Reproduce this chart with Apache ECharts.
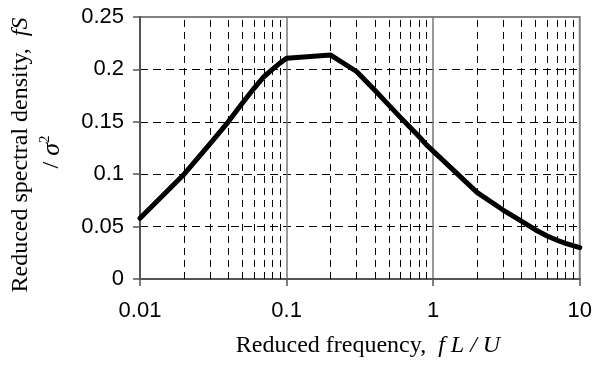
<!DOCTYPE html>
<html>
<head>
<meta charset="utf-8">
<script src="https://cdn.jsdelivr.net/npm/echarts@6/dist/echarts.min.js"></script>
<style>html,body{margin:0;padding:0;background:#fff}#c{width:595px;height:367px}</style>
</head>
<body>
<div id="c"></div>
<script>
// Reduced frequency (f L / U)
const freq = [0.01, 0.02, 0.03, 0.04, 0.05, 0.06, 0.07, 0.08, 0.09, 0.1,
              0.2, 0.3, 0.4, 0.5, 0.6, 0.7, 0.8, 0.9, 1,
              2, 3, 4, 5, 6, 7, 8, 9, 10];
// Reduced spectral density (f S / sigma^2)
const density = [0.058, 0.100, 0.129, 0.150, 0.168, 0.182, 0.193, 0.200, 0.206, 0.2106,
                 0.2137, 0.198, 0.180, 0.1657, 0.154, 0.1444, 0.136, 0.128, 0.122,
                 0.0824, 0.0658, 0.0553, 0.0468, 0.041, 0.037, 0.034, 0.0318, 0.030];
const xTickLabels = ['0.01', '0.1', '1', '10'];
const yTickLabels = ['0', '0.05', '0.1', '0.15', '0.2', '0.25'];
// minor log grid lines (2..9 within each decade)
const minorGrid = [0.02, 0.03, 0.04, 0.05, 0.06, 0.07, 0.08, 0.09,
                   0.2, 0.3, 0.4, 0.5, 0.6, 0.7, 0.8, 0.9,
                   2, 3, 4, 5, 6, 7, 8, 9];

const chart = echarts.init(document.getElementById('c'), null, {renderer: 'canvas'});
const serif = '"Liberation Serif", "Times New Roman", serif';
const sans = '"Liberation Sans", Arial, sans-serif';

chart.setOption({
  animation: false,
  backgroundColor: '#fff',
  grid: {left: 140, right: 13, top: 17, bottom: 88, show: true,
         borderColor: '#808080', borderWidth: 2, backgroundColor: 'transparent'},
  xAxis: {
    type: 'log', logBase: 10, min: 0.01, max: 10,
    axisLine: {show: true, lineStyle: {color: '#555', width: 2}},
    axisTick: {show: true, inside: false, length: 7, lineStyle: {color: '#555', width: 1.5}},
    axisLabel: {margin: 21, color: '#000', fontFamily: sans, fontSize: 22,
                formatter: (v, i) => xTickLabels[i]},
    splitLine: {show: true, showMinLine: false, showMaxLine: false,
                lineStyle: {color: '#777', width: 1.5, type: 'solid'}},
    minorTick: {show: false}, minorSplitLine: {show: false}
  },
  yAxis: {
    type: 'value', min: 0, max: 0.25, interval: 0.05,
    axisLine: {show: true, lineStyle: {color: '#555', width: 2}},
    axisTick: {show: true, inside: false, length: 7, lineStyle: {color: '#555', width: 1.5}},
    axisLabel: {margin: 16, color: '#000', fontFamily: sans, fontSize: 22,
                formatter: (v, i) => yTickLabels[i]},
    splitLine: {show: true, showMinLine: false, showMaxLine: false,
                lineStyle: {color: '#000', width: 1, type: [8, 5]}}
  },
  series: [
    {
      type: 'line', data: [], z: 1, silent: true,
      markLine: {
        z: 1, silent: true, symbol: ['none', 'none'], animation: false,
        label: {show: false},
        lineStyle: {color: '#000', width: 1, type: [7, 5]},
        emphasis: {disabled: true},
        data: minorGrid.map(v => ({xAxis: v}))
      }
    },
    {
      type: 'line', z: 10,
      data: freq.map((f, i) => [f, density[i]]),
      showSymbol: false, symbol: 'none', smooth: false,
      lineStyle: {color: '#000', width: 5, join: 'round', cap: 'round'}
    }
  ],
  graphic: [
    {
      type: 'text', x: 21, y: 155, rotation: Math.PI / 2,
      style: {
        text: 'Reduced spectral density,  {i|fS}',
        font: '24px ' + serif, fill: '#000', align: 'center', verticalAlign: 'middle',
        rich: {i: {fontStyle: 'italic', fontFamily: serif, fontSize: 24}}
      }
    },
    {
      type: 'text', x: 52, y: 152, rotation: Math.PI / 2,
      style: {
        text: '/ {i|σ}{s|2}',
        font: '24px ' + serif, fill: '#000', align: 'center', verticalAlign: 'middle',
        rich: {
          i: {fontStyle: 'italic', fontFamily: serif, fontSize: 26},
          s: {fontFamily: serif, fontSize: 15, padding: [0, 0, 14, 0]}
        }
      }
    },
    {
      type: 'text', x: 368, y: 346,
      style: {
        text: 'Reduced frequency,  {i|f L / U}',
        font: '24px ' + serif, fill: '#000', align: 'center', verticalAlign: 'middle',
        rich: {i: {fontStyle: 'italic', fontFamily: serif, fontSize: 24}}
      }
    }
  ]
});
</script>
</body>
</html>
